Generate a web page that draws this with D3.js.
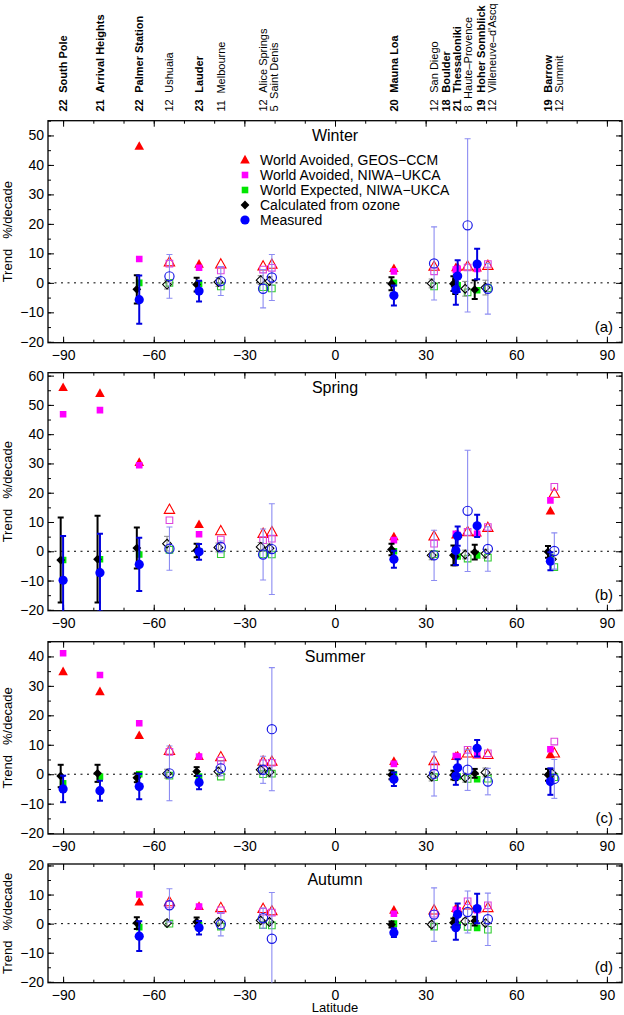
<!DOCTYPE html>
<html><head><meta charset="utf-8">
<script src="https://cdn.jsdelivr.net/npm/d3@7"></script>
<style>
body{margin:0;background:#fff}
svg{display:block}
text{font-family:"Liberation Sans",Arial,Helvetica,sans-serif;fill:#000}
</style>
</head><body>
<svg id="chart" width="624" height="1015"></svg>
<script>
// ---------- DATA ----------
const stations = ["South Pole","Arrival Heights","Palmer Station","Ushuaia","Lauder","Melbourne","Alice Springs","Saint Denis","Mauna Loa","San Diego","Boulder","Thessaloniki","Haute\u2013Provence","Hoher Sonnblick","Villeneuve\u2013d'Ascq","Barrow","Summit"];
const stationLat = [-90,-77.8,-64.8,-54.8,-45,-37.8,-23.8,-20.9,19.5,32.8,40.0,40.6,43.9,47.05,50.6,71.3,72.6];
const labelLat = [-90,-77.8,-64.8,-54.8,-45,-37.8,-23.8,-20.3,19.5,32.8,36.9,40.5,44.2,48.2,52.0,70.4,74.0];
const stationYears = [22,21,22,12,23,11,12,5,20,12,18,21,8,19,12,19,12];
const stationNSF = [true,true,true,false,true,false,false,false,true,false,true,true,false,true,false,true,false];

const seasons = ["Winter","Spring","Summer","Autumn"];
const panelTags = ["(a)","(b)","(c)","(d)"];
const yMaxBySeason = [55,61,45,20.5];
const yMin = -20.3;
const xTickLabels = [-90,-60,-30,0,30,60,90];
const legendLabels = ["World Avoided, GEOS\u2212CCM","World Avoided, NIWA\u2212UKCA","World Expected, NIWA\u2212UKCA","Calculated from ozone","Measured"];

// Winter
const winterGeos      = [null,null,46.3,7.0,6.3,6.3,5.6,6.2,4.8,5.5,5.1,5.3,5.6,5.0,5.8,null,null];
const winterNiwaAvoid = [null,null,8.1,6.5,5.1,4.2,4.5,5.1,3.9,3.9,4.5,4.8,5.2,4.7,6.4,null,null];
const winterNiwaExp   = [null,null,0,0,-0.3,-1.2,-1.5,-1.9,0,-1.2,-0.5,-0.8,-3.2,-2.5,-1.8,null,null];
const winterCalc      = [null,null,-2.2,-0.6,-0.6,0.3,0.9,0.6,-0.3,-0.2,-0.3,-1.3,-2.0,-2.3,-1.6,null,null];
const winterCalcErr   = [null,null,4.8,1.5,2.3,1.5,1.5,1.5,2.2,1.5,2.5,2.5,2.5,3.2,2.5,null,null];
const winterMeas      = [null,null,-5.7,2.2,-2.8,0.6,-2.0,1.8,-4.3,6.6,-2.3,2.3,19.5,6.4,-2.0,null,null];
const winterMeasErr   = [null,null,8.2,7.4,3.5,4.9,6.5,7.8,3.4,12.4,5.1,5.4,29.4,5.2,8.6,null,null];
// Spring
const springGeos      = [55.9,53.9,30.3,14.2,9.1,6.9,6.0,6.6,4.9,5.1,5.5,5.8,6.6,6.2,8.0,13.7,19.7];
const springNiwaAvoid = [46.8,48.2,29.4,10.6,5.8,4.0,3.8,4.3,3.8,2.6,6.0,5.5,6.6,6.0,8.3,17.4,22.0];
const springNiwaExp   = [-3.0,-2.7,-1.1,0.5,0,-1.0,-1.0,-1.1,0,-1.0,-1.5,-1.8,-2.5,-1.4,-2.2,-2.0,-5.4];
const springCalc      = [-3.0,-2.7,1.1,2.6,0.3,1.3,1.5,1.0,0.6,-1.4,-1.4,-1.8,-1.1,-0.3,-0.8,-0.2,-2.7];
const springCalcErr   = [14.5,14.8,7.0,2.5,2.3,1.5,1.5,1.5,2.0,1.5,3.4,3.0,1.5,2.5,1.5,2.0,1.5];
const springMeas      = [-9.9,-7.3,-4.5,0.9,-0.2,1.5,-1.1,0.75,-2.7,-1.4,0.3,5.2,13.8,8.7,0.8,-3.4,0.1];
const springMeasErr   = [15.1,13.3,9.1,7.4,2.7,2.0,8.7,15.5,2.9,8.6,5.0,3.3,20.7,3.8,7.6,3.1,6.2];
// Summer
const summerGeos      = [34.8,28.0,13.1,8.0,6.0,5.8,4.3,4.3,4.3,4.5,6.0,6.2,7.1,6.5,6.6,6.6,7.1];
const summerNiwaAvoid = [41.1,33.7,17.3,7.6,6.0,4.6,3.7,3.9,3.5,2.6,6.2,6.0,8.3,6.6,7.1,8.5,11.1];
const summerNiwaExp   = [-3.1,-0.8,0,-0.5,-0.8,-0.8,0,0.2,0,-1.0,-1.0,-0.8,-1.6,-1.7,-1.5,-1.0,-1.0];
const summerCalc      = [-0.6,0.3,-1.2,0.2,0.9,0.9,1.5,0.7,-0.2,-0.8,-0.3,-0.5,-1.2,0.3,0.6,-0.2,0.3];
const summerCalcErr   = [3.8,2.9,1.5,1.5,1.5,1.5,1.5,1.5,1.5,1.5,1.5,1.5,1.5,1.5,1.5,2.0,1.5];
const summerMeas      = [-5.0,-5.6,-4.2,0.3,-2.8,2.0,1.5,15.3,-1.7,0.1,-0.6,2.2,1.5,8.8,-2.5,-2.5,-1.6];
const summerMeasErr   = [4.5,3.4,4.3,9.3,2.3,2.5,4.6,20.9,2.3,7.5,3.0,2.9,7.0,2.8,4.5,4.5,6.6];
// Autumn
const autumnGeos      = [null,null,7.4,7.4,5.9,5.4,5.1,4.3,4.6,4.6,5.2,5.0,6.3,5.0,5.4,null,null];
const autumnNiwaAvoid = [null,null,10.0,6.6,5.9,4.6,4.1,3.8,3.4,3.4,4.8,4.6,7.7,4.6,6.3,null,null];
const autumnNiwaExp   = [null,null,-1.2,0,-0.5,-1.0,-0.5,-0.6,0,-1.0,-0.5,-0.5,-1.1,-1.5,-2.1,null,null];
const autumnCalc      = [null,null,0.2,0.2,0.6,0.6,1.1,0.6,-0.3,-0.3,0.3,0.6,0.8,0.9,0.2,null,null];
const autumnCalcErr   = [null,null,2.0,1.0,1.5,1.0,1.0,1.0,1.0,1.0,1.5,1.5,1.0,1.5,1.0,null,null];
const autumnMeas      = [null,null,-4.3,6.3,-1.4,-0.2,1.9,-5.2,-3.1,3.1,-1.4,3.2,4.0,5.2,1.5,null,null];
const autumnMeasErr   = [null,null,5.1,5.7,2.3,4.0,3.5,15.9,1.5,9.2,4.1,3.7,7.2,5.1,9.0,null,null];

const seasonData = [
  {geos:winterGeos, na:winterNiwaAvoid, ne:winterNiwaExp, calc:winterCalc, calcErr:winterCalcErr, meas:winterMeas, measErr:winterMeasErr},
  {geos:springGeos, na:springNiwaAvoid, ne:springNiwaExp, calc:springCalc, calcErr:springCalcErr, meas:springMeas, measErr:springMeasErr},
  {geos:summerGeos, na:summerNiwaAvoid, ne:summerNiwaExp, calc:summerCalc, calcErr:summerCalcErr, meas:summerMeas, measErr:summerMeasErr},
  {geos:autumnGeos, na:autumnNiwaAvoid, ne:autumnNiwaExp, calc:autumnCalc, calcErr:autumnCalcErr, meas:autumnMeas, measErr:autumnMeasErr}
];

// ---------- LAYOUT ----------
const left = 48, right = 622;
const panelTop = [120.7, 372.7, 641.7, 864];
const panelBot = [342.7, 610.7, 834, 982.7];
const svg = d3.select("#chart");
const x = d3.scaleLinear().domain([-95,95]).range([left,right]);

const C = {red:"#ff0000", mag:"#ff00ff", green:"#00e600", blue:"#0000ff", oblue:"#1a1ae6", lblue:"#8c8cf2", gray:"#8a8a8a",
           omag:"#dd44dd", ogreen:"#33cc33"};

const triPath = s => `M0,${-5.2*s}L${4.8*s},${3.4*s}L${-4.8*s},${3.4*s}Z`;
const sqPath = s => `M${-3.3*s},${-3.3*s}h${6.6*s}v${6.6*s}h${-6.6*s}Z`;
const diaPath = s => `M0,${-4.4*s}L${4.4*s},0L0,${4.4*s}L${-4.4*s},0Z`;

function drawPanel(p){
  const top = panelTop[p], bot = panelBot[p];
  const y = d3.scaleLinear().domain([yMin, yMaxBySeason[p]]).range([bot, top]);
  const g = svg.append("g");
  const clipId = "clip"+p;
  svg.append("clipPath").attr("id",clipId).append("rect")
    .attr("x",left).attr("y",top).attr("width",right-left).attr("height",bot-top);

  const majX = xTickLabels;
  const minX = d3.range(-90,91,10);
  g.append("g").attr("transform",`translate(0,${bot})`)
    .call(d3.axisBottom(x).tickValues(minX).tickSizeInner(-3).tickSizeOuter(0).tickFormat(""));
  g.append("g").attr("transform",`translate(0,${bot})`)
    .call(d3.axisBottom(x).tickValues(majX).tickSizeInner(-6).tickSizeOuter(0).tickPadding(7.5).tickFormat(d3.format("d")));
  g.append("g").attr("transform",`translate(0,${top})`)
    .call(d3.axisTop(x).tickValues(minX).tickSizeInner(-3).tickSizeOuter(0).tickFormat(""));
  g.append("g").attr("transform",`translate(0,${top})`)
    .call(d3.axisTop(x).tickValues(majX).tickSizeInner(-6).tickSizeOuter(0).tickFormat(""));
  const yMaj = d3.range(-20, yMaxBySeason[p]+0.01, 10);
  const yMin5 = d3.range(-20, yMaxBySeason[p]+0.01, 5);
  g.append("g").attr("transform",`translate(${left},0)`)
    .call(d3.axisLeft(y).tickValues(yMin5).tickSizeInner(-3).tickSizeOuter(0).tickFormat(""));
  g.append("g").attr("transform",`translate(${left},0)`)
    .call(d3.axisLeft(y).tickValues(yMaj).tickSizeInner(-6).tickSizeOuter(0).tickPadding(4).tickFormat(d3.format("d")));
  g.append("g").attr("transform",`translate(${right},0)`)
    .call(d3.axisRight(y).tickValues(yMin5).tickSizeInner(-3).tickSizeOuter(0).tickFormat(""));
  g.append("g").attr("transform",`translate(${right},0)`)
    .call(d3.axisRight(y).tickValues(yMaj).tickSizeInner(-6).tickSizeOuter(0).tickFormat(""));
  g.selectAll(".domain").remove();
  g.selectAll(".tick line").attr("stroke","#000").attr("stroke-width",1);
  g.selectAll(".tick text").attr("font-size",14).attr("fill","#000")
    .attr("font-family","'Liberation Sans',Arial,sans-serif");

  g.append("rect").attr("x",left).attr("y",top).attr("width",right-left).attr("height",bot-top)
    .attr("fill","none").attr("stroke","#000").attr("stroke-width",1.3);

  g.append("line").attr("x1",left).attr("x2",right).attr("y1",y(0)).attr("y2",y(0))
    .attr("stroke","#000").attr("stroke-width",1).attr("stroke-dasharray","2,4.5");

  g.append("text").attr("x",x(0)).attr("y",top+20.5).attr("text-anchor","middle")
    .attr("font-size",16).text(seasons[p]);
  g.append("text").attr("x",right-9).attr("y",bot-11).attr("text-anchor","end")
    .attr("font-size",15).text(panelTags[p]);

  g.append("text").attr("transform",`translate(12,${(top+bot)/2}) rotate(-90)`)
    .attr("text-anchor","middle").attr("font-size",13)
    .html('<tspan>Trend</tspan><tspan dx="10">%/decade</tspan>');

  const d = seasonData[p];
  const m = g.append("g").attr("clip-path",`url(#${clipId})`);
  const idx = d3.range(stations.length);
  const calcOff = -0.8;

  function errBar(xv, v, e, color, sw){
    if (v==null || e==null) return;
    const cx = x(xv);
    m.append("line").attr("x1",cx).attr("x2",cx).attr("y1",y(v-e)).attr("y2",y(v+e))
      .attr("stroke",color).attr("stroke-width",sw);
    [v-e, v+e].forEach(t=>{
      m.append("line").attr("x1",cx-3).attr("x2",cx+3).attr("y1",y(t)).attr("y2",y(t))
        .attr("stroke",color).attr("stroke-width",sw);
    });
  }
  function sym(path, xv, v, filled, fillColor, strokeColor, sw){
    if (v==null) return;
    const el = m.append("path").attr("d",path).attr("transform",`translate(${x(xv)},${y(v)})`);
    if (filled) el.attr("fill",fillColor).attr("stroke","none");
    else el.attr("fill","none").attr("stroke",strokeColor).attr("stroke-width",sw);
  }

  idx.forEach(i=>{
    const f = stationNSF[i];
    sym(f?triPath(1):triPath(1.08), stationLat[i], d.geos[i], f, C.red, C.red, 1.1);
  });
  idx.forEach(i=>{
    sym(sqPath(1), stationLat[i], d.na[i], stationNSF[i], C.mag, C.omag, 1.1);
  });
  idx.forEach(i=>{
    sym(sqPath(1), stationLat[i], d.ne[i], stationNSF[i], C.green, C.ogreen, 1.1);
  });
  idx.forEach(i=>{
    const f = stationNSF[i], lat = stationLat[i]+calcOff;
    errBar(lat, d.calc[i], d.calcErr[i], f?"#000":C.gray, f?2:1);
    sym(diaPath(1), lat, d.calc[i], f, "#000", "#000", 1.1);
  });
  idx.forEach(i=>{
    const f = stationNSF[i], lat = stationLat[i];
    errBar(lat, d.meas[i], d.measErr[i], f?"#0000e0":C.lblue, f?2:1.1);
    if (d.meas[i]!=null){
      const c = m.append("circle").attr("cx",x(lat)).attr("cy",y(d.meas[i])).attr("r",4.6);
      if (f) c.attr("fill",C.blue); else c.attr("fill","none").attr("stroke",C.oblue).attr("stroke-width",1.2);
    }
  });

  if (p===0){
    const lx = 245, ly0 = 160, dy = 15;
    const leg = g.append("g");
    legendLabels.forEach((lab,k)=>{
      const yy = ly0 + k*dy;
      const t = `translate(${lx},${yy})`;
      if (k===0) leg.append("path").attr("d",triPath(1)).attr("transform",t).attr("fill",C.red);
      if (k===1) leg.append("path").attr("d",sqPath(1)).attr("transform",t).attr("fill",C.mag);
      if (k===2) leg.append("path").attr("d",sqPath(1)).attr("transform",t).attr("fill",C.green);
      if (k===3) leg.append("path").attr("d",diaPath(1)).attr("transform",t).attr("fill","#000");
      if (k===4) leg.append("circle").attr("cx",lx).attr("cy",yy).attr("r",4.6).attr("fill",C.blue);
      leg.append("text").attr("x",lx+15).attr("y",yy+5).attr("font-size",14).text(lab);
    });
  }
}
for (let p=0;p<4;p++) drawPanel(p);

svg.append("text").attr("x",x(0)).attr("y",1012).attr("text-anchor","middle").attr("font-size",13).text("Latitude");

const lab = svg.append("g");
stations.forEach((s,i)=>{
  const t = lab.append("text")
    .attr("transform",`translate(${x(labelLat[i])},111.5) rotate(-90)`)
    .attr("dy","0.36em").attr("font-size",11)
    .attr("font-weight",stationNSF[i]?"bold":"normal");
  t.append("tspan").text(stationYears[i]);
  t.append("tspan").attr("dx",6.5).text(s);
});
</script>
</body></html>
